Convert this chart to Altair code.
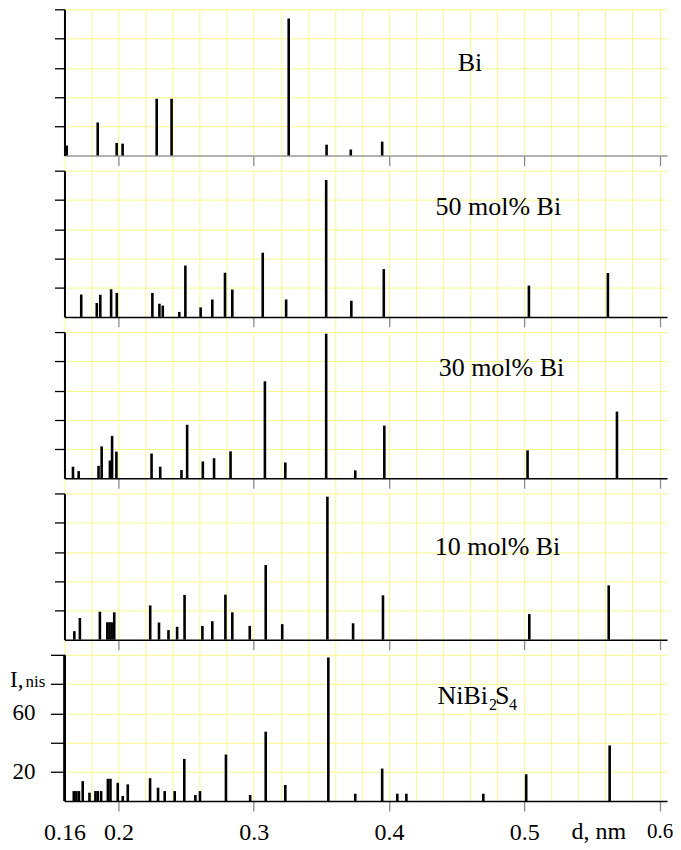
import altair as alt
import pandas as pd

FONT = "Liberation Serif"
W, H = 603, 146.3
X_DOMAIN = [0.16, 0.6055]
Y_DOMAIN = [0, 100]
GRID_X = [round(0.16 + 0.02 * k, 2) for k in range(23)]
Y_TICKS = [20, 40, 60, 80, 100]
YELLOW = "#f8f88c"
GAP = 14.5

# ---- data (d in nm, relative intensity) ----
bi_d = [0.1617, 0.1846, 0.1986, 0.2030, 0.2282, 0.2392, 0.3258, 0.3538, 0.3717, 0.3949]
bi_i = [6.8, 22.6, 8.6, 8.1, 38.8, 38.8, 93.7, 7.4, 4.1, 9.5]

m50_d = [0.1724, 0.1839, 0.1865, 0.1945, 0.1987, 0.2250, 0.2302, 0.2327, 0.2449, 0.2494,
         0.2607, 0.2693, 0.2787, 0.2841, 0.3066, 0.3239, 0.3535, 0.3721, 0.3961, 0.5034, 0.5618]
m50_i = [15.3, 9.5, 15.1, 18.9, 16.4, 16.4, 9.0, 7.7, 3.4, 35.1,
         6.5, 11.9, 30.2, 18.7, 43.9, 11.9, 93.7, 11.0, 32.7, 21.4, 30.0]

m30_d = [0.1663, 0.1705, 0.1852, 0.1875, 0.1936, 0.1952, 0.1984, 0.2244, 0.2308, 0.2465,
         0.2507, 0.2623, 0.2706, 0.2828, 0.3082, 0.3233, 0.3535, 0.3750, 0.3965, 0.5024, 0.5685]
m30_i = [7.9, 4.9, 8.5, 21.8, 12.1, 29.0, 18.2, 16.9, 7.9, 5.6,
         36.6, 11.5, 13.7, 18.4, 66.3, 10.8, 98.9, 5.4, 36.0, 19.1, 45.6]

m10_d = [0.1673, 0.1714, 0.1862, 0.1917, 0.1933, 0.1949, 0.1968, 0.2234, 0.2299, 0.2369,
         0.2433, 0.2488, 0.2620, 0.2693, 0.2790, 0.2841, 0.2970, 0.3088, 0.3210, 0.3544,
         0.3734, 0.3955, 0.5037, 0.5624]
m10_i = [5.8, 14.8, 19.1, 11.9, 11.9, 11.9, 18.7, 23.4, 11.7, 6.5,
         8.8, 30.6, 9.4, 12.6, 30.8, 18.7, 9.4, 51.0, 10.6, 97.8,
         11.2, 30.3, 17.5, 37.1]

nbs_d = [0.1600, 0.1669, 0.1688, 0.1707, 0.1735, 0.1785, 0.1829, 0.1846, 0.1871, 0.1921,
         0.1940, 0.1994, 0.2031, 0.2068, 0.2233, 0.2292, 0.2341, 0.2415, 0.2486, 0.2568,
         0.2602, 0.2794, 0.2973, 0.3088, 0.3233, 0.3551, 0.3750, 0.3949, 0.4061, 0.4128,
         0.4697, 0.5014, 0.5631]
nbs_i = [100, 6.8, 6.8, 6.8, 13.6, 5.7, 6.8, 6.8, 6.8, 15.2,
         15.2, 12.5, 3.4, 11.4, 15.6, 9.1, 6.8, 6.8, 28.8, 4.1,
         6.8, 31.8, 4.1, 47.4, 11.0, 98.2, 5.0, 22.2, 5.0, 5.0,
         5.0, 18.3, 38.0]

# panel labels: text, d position, intensity position
panel_labels = ["Bi", "50 mol% Bi", "30 mol% Bi", "10 mol% Bi"]
label_d = [0.4598, 0.4808, 0.4831, 0.4802]
label_i = [63.1, 75.4, 75.6, 63.3]

# NiBi2S4 label pieces
nbs_label_d = 0.4731
nbs_label_i = 66.2

# bottom-panel y labels
y_label_vals = [20, 60]
y_label_txt = ["20", "60"]

x_extra_labels = ["d, nm"]
x_extra_labels_d = [0.5551]

MAJOR = "abs(datum.value*10 - round(datum.value*10)) < 0.001 && datum.value > 0.17"


def x_enc(bottom, first):
    if bottom:
        tick_kw = dict(
            tickColor="#8a8a8a", tickSize=10, tickWidth=1.3,
            tickOpacity={"condition": {"test": MAJOR, "value": 1}, "value": 0},
        )
    else:
        # grey major ticks; yellow minor ticks continue the grid through the gap
        tick_kw = dict(
            tickColor={"condition": {"test": MAJOR, "value": "#8a8a8a"}, "value": YELLOW},
            tickSize={"condition": {"test": MAJOR, "value": 10}, "value": GAP},
            tickWidth={"condition": {"test": MAJOR, "value": 1.3}, "value": 1},
        )
    axis = alt.Axis(
        values=GRID_X, grid=True, gridColor=YELLOW, gridWidth=1,
        domainColor="#999999" if first else "black", domainWidth=1.5,
        labels=bottom,
        labelExpr=("datum.value < 0.17 ? '0.16' : (abs(datum.value*10 - round(datum.value*10)) < 0.001"
                   " ? format(datum.value, '.1f') : '')"),
        labelFont=FONT,
        labelFontSize={"condition": {"test": "datum.value > 0.55", "value": 21}, "value": 24},
        labelColor="black", labelPadding=10,
        labelFlush=False, labelOverlap=False, title=None,
        **tick_kw,
    )
    return alt.X("d:Q", scale=alt.Scale(domain=X_DOMAIN, nice=False, zero=False), axis=axis)


def y_enc(bottom):
    axis = alt.Axis(
        values=Y_TICKS, grid=True, gridColor=YELLOW, gridWidth=1,
        domainColor="black", domainWidth=2,
        tickColor="black", tickSize=14 if bottom else 10, tickWidth=1.3,
        labels=False, title=None,
    )
    return alt.Y("I:Q", scale=alt.Scale(domain=Y_DOMAIN, nice=False), axis=axis)


def bars(ds, ints, bottom, first):
    df = pd.DataFrame({"d": ds, "I": ints})
    return alt.Chart(df).mark_rule(color="black", strokeWidth=2.6).encode(
        x=x_enc(bottom, first), y=y_enc(bottom), y2=alt.datum(0)
    )


def text_layer(ds, ints, texts, bottom, first, size=26, align="center", baseline="middle", dx=0, dy=0):
    df = pd.DataFrame({"d": ds, "I": ints, "t": texts})
    return alt.Chart(df).mark_text(
        font=FONT, fontSize=size, align=align, baseline=baseline, dx=dx, dy=dy, color="black"
    ).encode(x=x_enc(bottom, first), y=y_enc(bottom), text="t:N")


series = [(bi_d, bi_i), (m50_d, m50_i), (m30_d, m30_i), (m10_d, m10_i)]
panels = []
for k, (ds, ints) in enumerate(series):
    first = k == 0
    layer = alt.layer(
        bars(ds, ints, False, first),
        text_layer([label_d[k]], [label_i[k]], [panel_labels[k]], False, first),
    ).properties(width=W, height=H)
    panels.append(layer)

# bottom panel (NiBi2S4)
bottom_layers = [
    bars(nbs_d, nbs_i, True, False),
    text_layer([nbs_label_d], [nbs_label_i], ["NiBi"], True, False, align="right", baseline="alphabetic"),
    text_layer([nbs_label_d], [nbs_label_i], ["2"], True, False, size=16, align="left",
               baseline="alphabetic", dx=1, dy=6),
    text_layer([nbs_label_d], [nbs_label_i], ["S"], True, False, align="left", baseline="alphabetic", dx=7),
    text_layer([nbs_label_d], [nbs_label_i], ["4"], True, False, size=16, align="left",
               baseline="alphabetic", dx=21, dy=6),
]
# y-axis labels "20", "60" and title pieces "I," + "nis" at the 80 tick
yl = pd.DataFrame({"I": y_label_vals, "t": y_label_txt})
bottom_layers.append(
    alt.Chart(yl).mark_text(font=FONT, fontSize=23, align="left", baseline="middle", color="black")
    .encode(x=alt.value(-52), y=y_enc(True), text="t:N")
)
yt = pd.DataFrame({"I": [80]})
bottom_layers.append(
    alt.Chart(yt).mark_text(font=FONT, fontSize=23, align="left", baseline="alphabetic", dy=3,
                            color="black", text="I,").encode(x=alt.value(-54.5), y=y_enc(True))
)
bottom_layers.append(
    alt.Chart(yt).mark_text(font=FONT, fontSize=17, align="left", baseline="alphabetic", dy=3,
                            color="black", text="nis").encode(x=alt.value(-39), y=y_enc(True))
)
# x-axis title "d, nm" placed among tick labels
xt = pd.DataFrame({"d": x_extra_labels_d, "t": x_extra_labels})
bottom_layers.append(
    alt.Chart(xt).mark_text(font=FONT, fontSize=24, align="center", baseline="top", color="black")
    .encode(x=x_enc(True, False), y=alt.value(H + 19), text="t:N")
)
panels.append(alt.layer(*bottom_layers).properties(width=W, height=H))

chart = alt.vconcat(*panels, spacing=GAP, bounds="flush").properties(
    padding={"left": 1.5, "top": 0, "right": 0, "bottom": 0},
    background="white",
).configure_view(stroke=None)

chart.save("out.html", embed_options={"renderer": "svg", "actions": False})
